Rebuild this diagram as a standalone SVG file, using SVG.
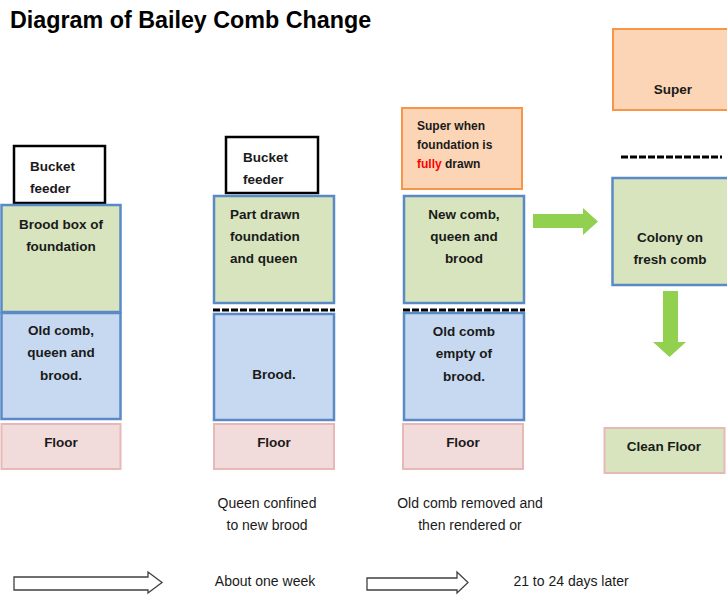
<svg xmlns="http://www.w3.org/2000/svg" width="727" height="595" viewBox="0 0 727 595">
<style>
.t{font-family:"Liberation Sans",Arial,sans-serif;font-weight:bold;font-size:13.5px;fill:#1a1a1a}
.c{text-anchor:middle}
.s{font-size:12px}
.n{font-family:"Liberation Sans",Arial,sans-serif;font-size:14px;fill:#1a1a1a;text-anchor:middle}
.feed{fill:#fff;stroke:#000;stroke-width:2.5}
.grn{fill:#d7e4bd;stroke:#5a8ac6;stroke-width:2.5}
.blu{fill:#c6d9f1;stroke:#5a8ac6;stroke-width:2.5}
.flr{fill:#f2dcdb;stroke:#e6b9b8;stroke-width:2}
.sup{fill:#fbd5b5;stroke:#f79646;stroke-width:2}
.dash{stroke:#000;stroke-width:3;stroke-dasharray:7 2;fill:none}
.garr{fill:#92d050}
.harr{fill:#fff;stroke:#404040;stroke-width:1.3}
</style>
<text x="10" y="28" style="font-family:'Liberation Sans',Arial,sans-serif;font-weight:bold;font-size:23.3px;fill:#000">Diagram of Bailey Comb Change</text>

<g id="col1-feeder"><rect class="feed" x="14" y="146" width="91" height="57"/><text class="t" x="30" y="171">Bucket</text><text class="t" x="30" y="193">feeder</text></g>
<g id="col1-brood"><rect class="grn" x="1.5" y="205" width="119" height="107"/><text class="t c" x="61" y="229">Brood box of</text><text class="t c" x="61" y="251">foundation</text></g>
<g id="col1-old"><rect class="blu" x="1.5" y="313" width="119" height="106"/><text class="t c" x="61" y="335">Old comb,</text><text class="t c" x="61" y="357">queen and</text><text class="t c" x="61" y="380">brood.</text></g>
<g id="col1-floor"><rect class="flr" x="1.5" y="424" width="119" height="45"/><text class="t c" x="61" y="447">Floor</text></g>

<g id="col2-feeder"><rect class="feed" x="226" y="137" width="92" height="56"/><text class="t" x="243" y="162">Bucket</text><text class="t" x="243" y="184">feeder</text></g>
<g id="col2-part"><rect class="grn" x="214" y="196" width="120" height="107"/><text class="t" x="230" y="219">Part drawn</text><text class="t" x="230" y="241">foundation</text><text class="t" x="230" y="263">and queen</text></g>
<g id="col2-brood"><rect class="blu" x="214" y="314" width="120" height="106"/><text class="t c" x="274" y="379">Brood.</text></g>
<g id="col2-floor"><rect class="flr" x="214" y="424" width="120" height="45"/><text class="t c" x="274" y="447">Floor</text></g>

<g id="col3-super"><rect class="sup" x="402" y="108" width="120" height="81"/><text class="t s" x="417" y="130">Super when</text><text class="t s" x="417" y="149">foundation is</text><text class="t s" x="417" y="168"><tspan fill="#ff0000">fully</tspan> drawn</text></g>
<g id="col3-new"><rect class="grn" x="404" y="196" width="120" height="107"/><text class="t c" x="464" y="219">New comb,</text><text class="t c" x="464" y="241">queen and</text><text class="t c" x="464" y="263">brood</text></g>
<g id="col3-old"><rect class="blu" x="404" y="313" width="120" height="107"/><text class="t c" x="464" y="336">Old comb</text><text class="t c" x="464" y="358">empty of</text><text class="t c" x="464" y="381">brood.</text></g>
<g id="col3-floor"><rect class="flr" x="403" y="424" width="120" height="45"/><text class="t c" x="463" y="447">Floor</text></g>

<g id="col4-super"><rect class="sup" x="613" y="29" width="116" height="81"/><text class="t c" x="673" y="94">Super</text></g>
<g id="col4-colony"><rect class="grn" x="612.5" y="178" width="116" height="107"/><text class="t c" x="670" y="242">Colony on</text><text class="t c" x="670" y="264">fresh comb</text></g>
<g id="col4-floor"><rect class="flr" x="604.5" y="428" width="120" height="45" style="fill:#d7e4bd"/><text class="t c" x="664" y="451">Clean Floor</text></g>

<g id="notes">
<text class="n" x="267" y="508">Queen confined</text>
<text class="n" x="267" y="530">to new brood</text>
<text class="n" x="470" y="508">Old comb removed and</text>
<text class="n" x="470" y="530">then rendered or</text>
<text class="n" x="265" y="586">About one week</text>
<text class="n" x="571" y="586">21 to 24 days later</text>
</g>

<g id="connectors">
<line class="dash" x1="213" y1="310" x2="335" y2="310"/>
<line class="dash" x1="403" y1="310" x2="525" y2="310"/>
<line class="dash" x1="621" y1="157" x2="722" y2="157"/>
<polygon class="garr" points="533,214 583,214 583,208 598,221.5 583,235 583,228 533,228"/>
<polygon class="garr" points="663,291 678,291 678,342 686,342 669.5,357 653,342 663,342"/>
<polygon class="harr" points="14,577 148,577 148,572 162,582.5 148,593 148,590 14,590"/>
<polygon class="harr" points="367,578 457,578 457,572 468,582.5 457,593 457,590 367,590"/>
</g>
</svg>
